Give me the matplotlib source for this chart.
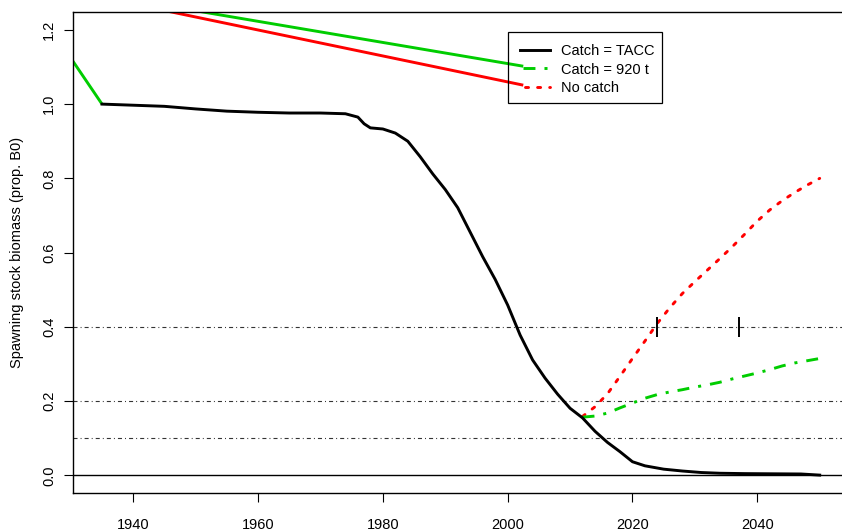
import matplotlib
matplotlib.use("Agg")
import matplotlib.pyplot as plt
from matplotlib.transforms import Affine2D
from matplotlib.patches import Rectangle
from matplotlib.lines import Line2D

plt.rcParams['font.family'] = ['Liberation Sans', 'DejaVu Sans']
plt.rcParams['lines.scale_dashes'] = False

# ---------------- data ----------------
tacc_years = [1935, 1940, 1945, 1950, 1955, 1960, 1965, 1970, 1974, 1976, 1977, 1978,
              1980, 1982, 1984, 1986, 1988, 1990, 1992, 1994, 1996, 1998, 2000, 2002,
              2004, 2006, 2008, 2010, 2012, 2014, 2016, 2018, 2020, 2022, 2025, 2028,
              2031, 2034, 2038, 2047, 2050]
tacc_ssb = [1.000, 0.997, 0.994, 0.987, 0.981, 0.978, 0.976, 0.976, 0.974, 0.965, 0.947, 0.936,
            0.933, 0.922, 0.900, 0.858, 0.812, 0.770, 0.721, 0.655, 0.589, 0.528, 0.459, 0.378,
            0.311, 0.262, 0.219, 0.181, 0.155, 0.119, 0.089, 0.064, 0.037, 0.026, 0.017, 0.012,
            0.008, 0.006, 0.005, 0.004, 0.001]

proj_years = [2012, 2014, 2016, 2018, 2020, 2022, 2024, 2026, 2028, 2030, 2032, 2034,
              2036, 2038, 2040, 2042, 2044, 2046, 2048, 2050]
c920_ssb = [0.157, 0.160, 0.168, 0.182, 0.195, 0.208, 0.218, 0.225, 0.231, 0.238, 0.244, 0.251,
            0.260, 0.268, 0.276, 0.285, 0.295, 0.303, 0.309, 0.315]
nocatch_ssb = [0.159, 0.185, 0.220, 0.267, 0.315, 0.362, 0.410, 0.452, 0.490, 0.522, 0.553, 0.584,
               0.616, 0.650, 0.685, 0.715, 0.740, 0.762, 0.782, 0.800]

# stray line segments visible in the reference
stray_green_low_x = [1925, 1935]
stray_green_low_y = [1.248, 1.000]
stray_green_high_x = [1935, 2002.5]
stray_green_high_y = [1.294, 1.102]
stray_red_high_x = [1935, 2002.5]
stray_red_high_y = [1.287, 1.051]

ref_levels = [0.4, 0.2, 0.1]
recovery_years = [2024, 2037]
recovery_level = 0.4

xticks = [1940, 1960, 1980, 2000, 2020, 2040]
yticks = [0.0, 0.2, 0.4, 0.6, 0.8, 1.0, 1.2]
ytick_labels = ["0.0", "0.2", "0.4", "0.6", "0.8", "1.0", "1.2"]
legend_labels = ["Catch = TACC", "Catch = 920 t", "No catch"]

GREEN = "#00CD00"
RED = "#FF0000"

# ---------------- figure ----------------
W, H = 842, 531
fig = plt.figure(figsize=(W / 100, H / 100), dpi=100)
ax = fig.add_axes([73.3 / W, (H - 493.3) / H, (848.4 - 73.3) / W, (493.3 - 12) / H])
ax.set_xlim(1930.4, 2054.6)
ax.set_ylim(-0.048, 1.248)

dotdash_thin = (0, (2.9, 2.2, 0.7, 2.2))
for lv in ref_levels:
    ax.axhline(lv, color="#333333", lw=0.8, linestyle=dotdash_thin)
ax.axhline(0.0, color="black", lw=1.0)

ax.plot(stray_green_low_x, stray_green_low_y, color=GREEN, lw=2.1, solid_capstyle="butt")
ax.plot(stray_green_high_x, stray_green_high_y, color=GREEN, lw=2.1, solid_capstyle="butt")
ax.plot(stray_red_high_x, stray_red_high_y, color=RED, lw=2.1, solid_capstyle="butt")

ax.plot(proj_years, nocatch_ssb, color=RED, lw=2.1,
        linestyle=(0, (2.2, 6.5)), dash_capstyle="round")
ax.plot(proj_years, c920_ssb, color=GREEN, lw=2.1,
        linestyle=(0, (8.6, 6.5, 2.2, 6.5)), dash_capstyle="butt")
ax.plot(tacc_years, tacc_ssb, color="black", lw=2.1, solid_joinstyle="round")

ax.plot(recovery_years, [recovery_level] * len(recovery_years), linestyle="none",
        marker="|", markersize=15, markeredgewidth=1.4, color="black")

ax.set_xticks(xticks)
ax.set_xticklabels([str(x) for x in xticks])
ax.set_yticks(yticks)
ax.set_yticklabels(ytick_labels, rotation=90, va="center")
ax.tick_params(axis="both", direction="out", length=6.5, width=0.8, labelsize=10.5)
ax.tick_params(axis="x", pad=11.5)
ax.tick_params(axis="y", pad=6)
for s in ax.spines.values():
    s.set_linewidth(1.0)

fig.text(17 / W, 1 - 252.5 / H, "Spawning stock biomass (prop. B0)", rotation=90,
         ha="center", va="center", fontsize=10.5)

# ---------------- legend (pixel layout) ----------------
px = Affine2D().scale(1 / W, -1 / H).translate(0, 1) + fig.transFigure
fig.patches.append(Rectangle((508.3, 31.7), 153.4, 71.6, transform=px, fill=False,
                             edgecolor="black", lw=0.9))
row_y = [49.5, 68.0, 86.7]
styles = [dict(color="black", linestyle="-"),
          dict(color=GREEN, linestyle=(0, (8.6, 6.5, 2.2, 6.5))),
          dict(color=RED, linestyle=(0, (2.2, 6.5)), dash_capstyle="round")]
starts = [520, 523, 525]
for y, st, x0, lab in zip(row_y, styles, starts, legend_labels):
    fig.lines.append(Line2D([x0, 550], [y, y], transform=px, lw=2.1, **st))
    fig.text(560.7 / W, 1 - (y + 5.8) / H, lab, ha="left", va="baseline", fontsize=10.5)

fig.savefig("out.png", dpi=100)
